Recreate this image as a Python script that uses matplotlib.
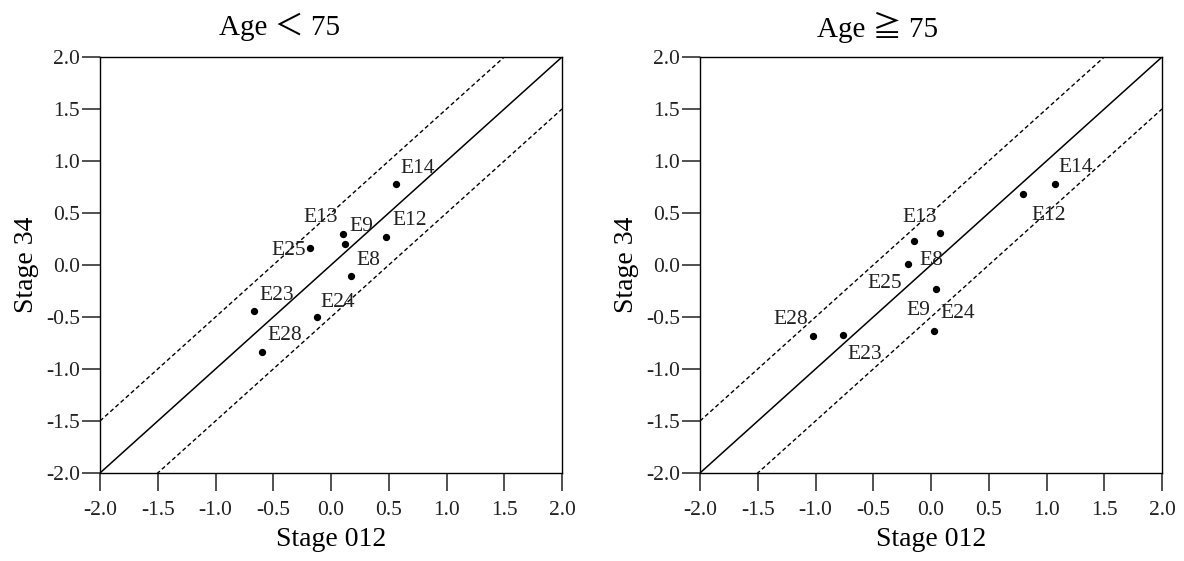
import matplotlib
matplotlib.use("Agg")
import matplotlib.pyplot as plt
import numpy as np

# ---------------- data ----------------
ticks = [-2.0, -1.5, -1.0, -0.5, 0.0, 0.5, 1.0, 1.5, 2.0]
tick_labels = ["-2.0", "-1.5", "-1.0", "-0.5", "0.0", "0.5", "1.0", "1.5", "2.0"]

left_names = ["E14", "E13", "E9", "E25", "E12", "E8", "E23", "E24", "E28"]
left_x = [0.56, 0.10, 0.12, -0.18, 0.48, 0.17, -0.67, -0.12, -0.60]
left_y = [0.78, 0.30, 0.20, 0.16, 0.27, -0.11, -0.44, -0.50, -0.84]

right_names = ["E14", "E12", "E13", "E25", "E8", "E9", "E24", "E23", "E28"]
right_x = [1.07, 0.80, 0.08, -0.15, -0.20, 0.04, 0.03, -0.76, -1.02]
right_y = [0.78, 0.68, 0.31, 0.23, 0.01, -0.23, -0.63, -0.67, -0.68]

titles = ["Age \uff1c 75", "Age \u2267 75"]
xlabel = "Stage 012"
ylabel = "Stage 34"

# label placement (data coords of text left edge / vertical centre)
left_label_pos = [(0.60, 0.93), (-0.24, 0.46), (0.16, 0.37), (-0.52, 0.14), (0.53, 0.43),
                  (0.22, 0.04), (-0.62, -0.29), (-0.09, -0.36), (-0.55, -0.68)]
right_label_pos = [(1.10, 0.94), (0.87, 0.48), (-0.25, 0.46), (-0.55, -0.18), (-0.10, 0.04),
                   (-0.21, -0.44), (0.08, -0.47), (-0.72, -0.86), (-1.36, -0.52)]

# ---------------- figure ----------------
W, H = 1184, 561
fig = plt.figure(figsize=(W / 100, H / 100), dpi=100)
serif = ["Liberation Serif", "Noto Sans CJK TC", "DejaVu Sans"]

def make_axes(px_left, xs, ys, names, lpos, title, title_cx):
    ax = fig.add_axes([px_left / W, (H - 473) / H, 462 / W, 416 / H])
    ax.set_xlim(-2, 2)
    ax.set_ylim(-2, 2)
    line = np.array([-2.0, 2.0])
    ax.plot(line, line, color="black", lw=1.1)
    ax.plot(line, line + 0.5, color="black", lw=1.0, ls=(0, (3, 2)))
    ax.plot(line, line - 0.5, color="black", lw=1.0, ls=(0, (3, 2)))
    ax.scatter(xs, ys, s=18, color="black", zorder=3)
    for n, (lx, ly) in zip(names, lpos):
        ax.text(lx, ly, n, ha="left", va="center", fontsize=15.5,
                family=serif, color="#222222")
    ax.set_xticks(ticks)
    ax.set_xticklabels(tick_labels, family=serif, fontsize=15.5, color="#222222")
    ax.set_yticks(ticks)
    ax.set_yticklabels(tick_labels, family=serif, fontsize=15.5, color="#222222")
    ax.tick_params(direction="out", length=13, width=1.1, color="#222222")
    ax.tick_params(axis="x", pad=7)
    ax.tick_params(axis="y", pad=1.5)
    for s in ax.spines.values():
        s.set_linewidth(1.0)
    ax.set_xlabel(xlabel, family=serif, fontsize=20)
    ax.set_ylabel(ylabel, family=serif, fontsize=20)
    ax.xaxis.set_label_coords(0.5, -0.161)
    ax.xaxis.label.set_va("center")
    ax.yaxis.set_label_coords(-0.16, 0.5)
    ax.yaxis.label.set_va("center")
    fig.text(title_cx / W, 1 - 27 / H, title, ha="center", va="center",
             family=serif, fontsize=21)
    return ax

make_axes(100, left_x, left_y, left_names, left_label_pos, titles[0], 280)
make_axes(700, right_x, right_y, right_names, right_label_pos, titles[1], 878)

fig.savefig("out.png", dpi=100)
